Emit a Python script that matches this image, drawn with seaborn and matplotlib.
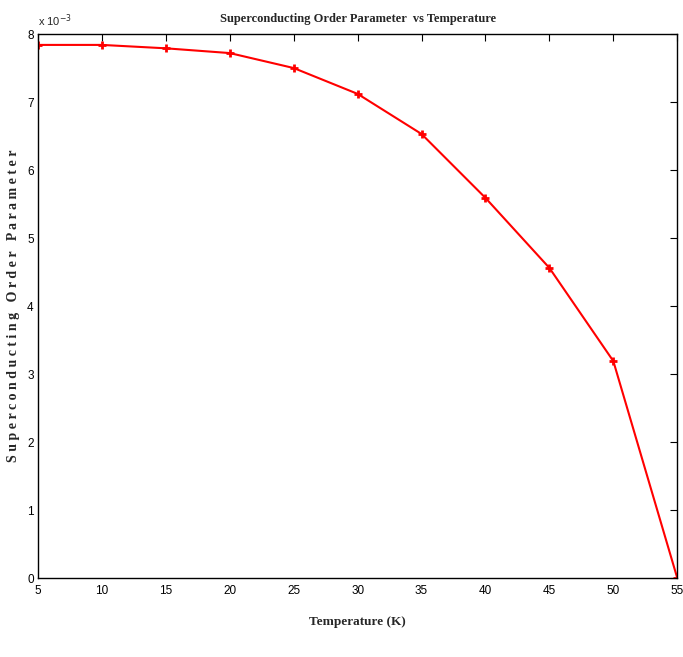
import matplotlib
matplotlib.use("Agg")
import matplotlib.pyplot as plt
import seaborn as sns
import pandas as pd

temperature = [5, 10, 15, 20, 25, 30, 35, 40, 45, 50, 55]
# order parameter in units of 1e-3
order_param = [7.84, 7.84, 7.79, 7.72, 7.50, 7.12, 6.53, 5.59, 4.56, 3.19, 0.0]

df = pd.DataFrame({"T": temperature, "delta": order_param})

sns.set_style("white")
plt.rcParams["font.family"] = ["Liberation Sans Narrow", "Liberation Sans", "DejaVu Sans"]

fig = plt.figure(figsize=(6.83, 6.57), dpi=100)
ax = fig.add_axes([0.0556, 0.1202, 0.936, 0.828])

sns.lineplot(data=df, x="T", y="delta", ax=ax, color="red", linewidth=1.5,
             marker="+", markersize=6, markeredgewidth=2, markeredgecolor="red")

ax.set_xlim(5, 55)
ax.set_ylim(0, 8)
ax.set_xticks(range(5, 56, 5))
ax.set_yticks(range(0, 9))
ax.tick_params(direction="in", length=5, width=0.8, top=True, right=True,
               labelsize=8.5, pad=3, colors="black")
ax.tick_params(axis="x", pad=5)
for s in ax.spines.values():
    s.set_visible(True)
    s.set_color("black")
    s.set_linewidth(1.0)

serif = ["Liberation Serif", "DejaVu Serif"]
ax.set_title("Superconducting Order Parameter  vs Temperature", fontsize=9,
             fontweight="bold", family=serif, pad=9)
ax.set_xlabel("Temperature (K)", fontsize=9.5, fontweight="bold", family=serif,
              labelpad=14)
ax.set_ylabel("S u p e r c o n d u c t i n g   O r d e r   P a r a m e t e r",
              fontsize=10, fontweight="bold", family=serif, labelpad=5)
ax.text(0.0, 1.01, r"x 10$^{-3}$", transform=ax.transAxes, fontsize=8,
        ha="left", va="bottom")

fig.savefig("out.png", dpi=100)
